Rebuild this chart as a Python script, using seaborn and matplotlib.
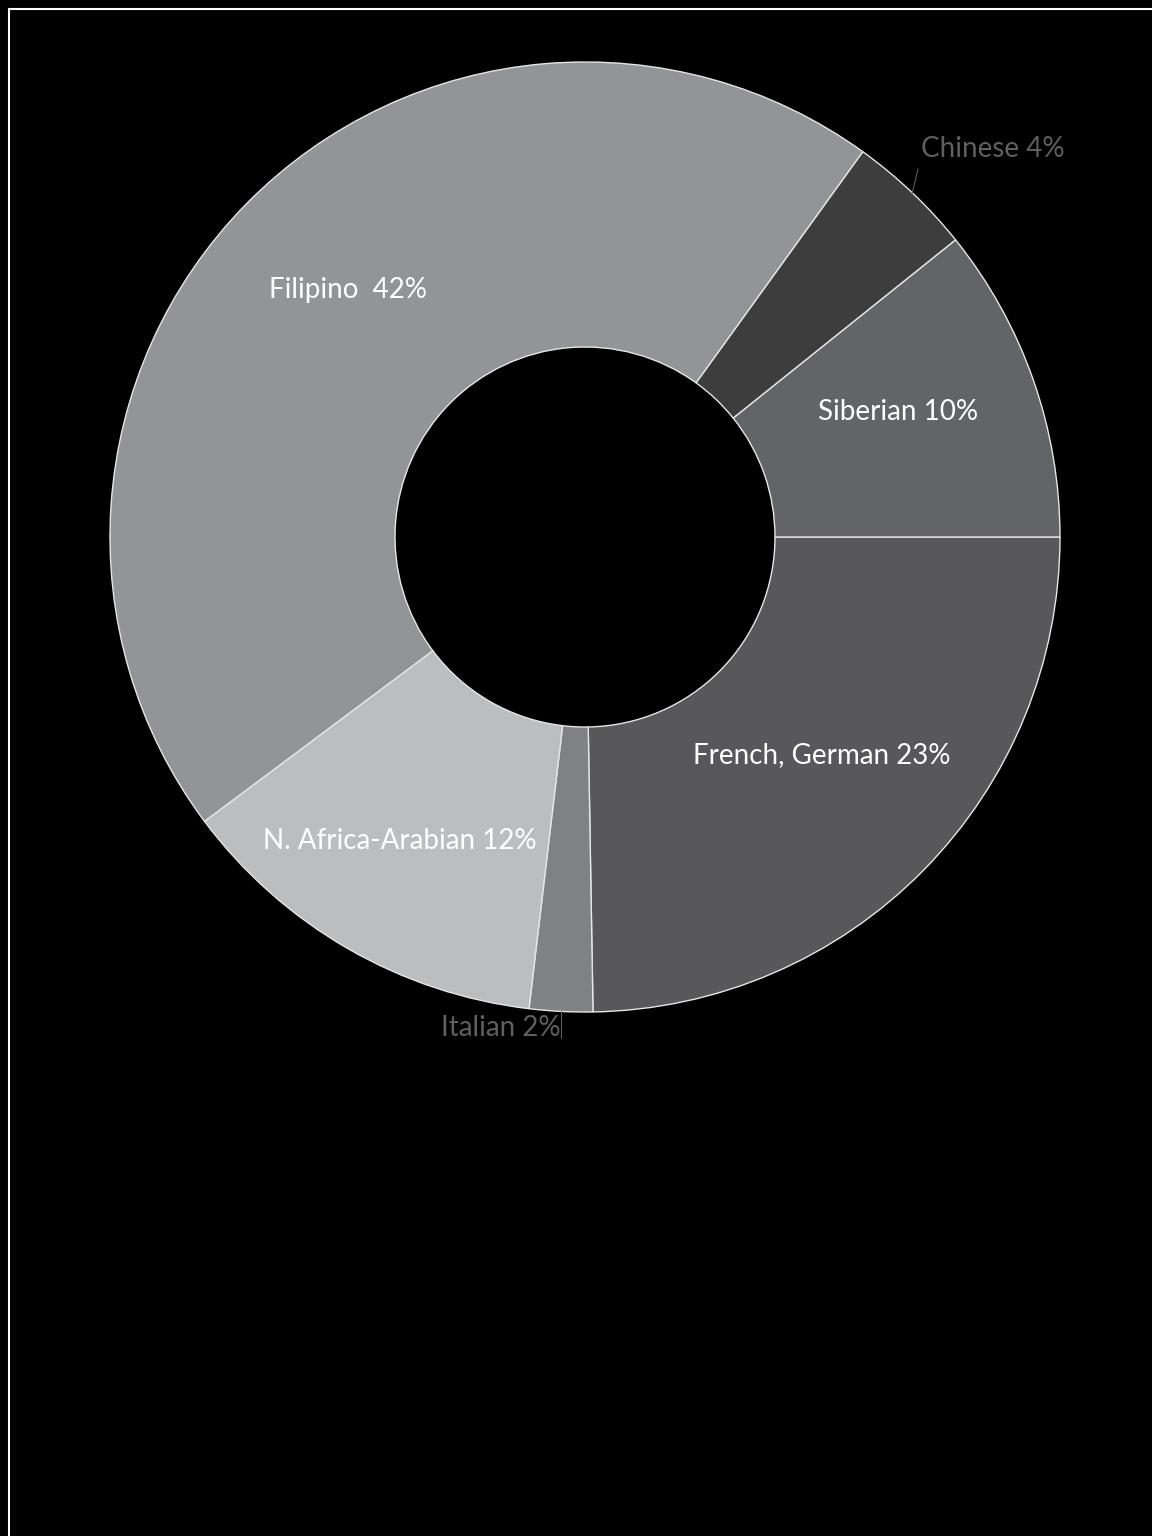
import matplotlib
matplotlib.use("Agg")
import matplotlib.pyplot as plt
import seaborn as sns

############# Data ######################################
########################################################
labels = ['French, German 23%', 'Italian 2%', 'N. Africa-Arabian 12%',
          'Filipino  42%', 'Chinese 4%', 'Siberian 10%']
values = [23, 2, 12, 42, 4, 10]
colors = ['#58585a', '#808184', '#bcbdbf', '#939497', '#3d3d3d', '#636467']

############# Style #####################################
########################################################
sns.set_theme(style='dark')
plt.rcParams['font.family'] = ['Lato', 'DejaVu Sans']
palette = sns.color_palette(colors)

W, H = 1152, 1536
fig = plt.figure(figsize=(W / 100, H / 100), dpi=100,
                 facecolor='black', edgecolor='black', linewidth=0)
ax = fig.add_axes([0, 0, 1, 1])
ax.set_facecolor('black')

# donut (pixel coords, y flipped so draw with counterclock=True)
cx, cy, r_out, r_in = 585, 537, 475, 190
ax.pie(values, colors=palette, startangle=0, counterclock=True,
       center=(cx, cy), radius=r_out,
       wedgeprops=dict(width=r_out - r_in, edgecolor='#e6e6e6', linewidth=1))
ax.set_xlim(0, W)
ax.set_ylim(H, 0)
ax.set_aspect('equal')
ax.set_axis_off()

fs = 20
# labels inside slices
inside = {0: (822, 755), 2: (400, 841), 3: (348, 290), 5: (898, 412)}
for i, (x, y) in inside.items():
    ax.text(x, y, labels[i], color='white', fontsize=fs, ha='center', va='center')

# outside labels with leader lines
ax.text(993, 149, labels[4], color='#5f5f5f', fontsize=fs, ha='center', va='center')
ax.plot([918, 912], [169, 194], color='#5f5f5f', lw=0.8)
ax.text(501, 1028, labels[1], color='#5f5f5f', fontsize=fs, ha='center', va='center')
ax.plot([561, 561], [1011, 1038], color='#5f5f5f', lw=0.8)

# frame lines (top and left only)
ax.plot([8.5, W], [8.5, 8.5], color='white', lw=1.5)
ax.plot([8.5, 8.5], [8.5, H], color='white', lw=1.5)

plt.savefig('out.png', dpi=100, facecolor='black', edgecolor='black')
